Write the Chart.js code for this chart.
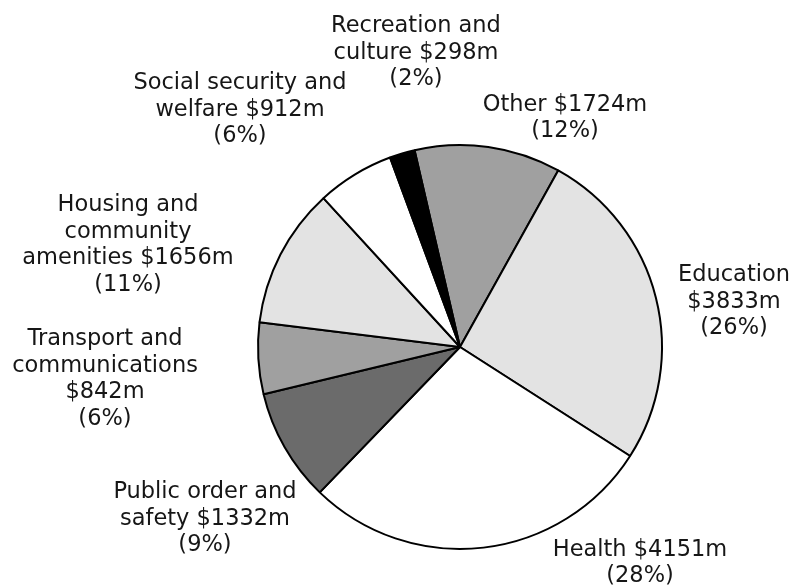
<!DOCTYPE html>
<html>
<head>
<meta charset="utf-8">
<script src="https://cdn.jsdelivr.net/npm/chart.js@4/dist/chart.umd.min.js"></script>
<style>
    html, body { margin: 0; padding: 0; background: #ffffff; }
    .chart-wrap { width: 793px; height: 585px; position: relative; }
</style>
</head>
<body>
<div class="chart-wrap">
    <canvas id="myChart" width="793" height="585"></canvas>
</div>
<script>
// spending by category, $m (clockwise from the top)
let categories = [
    "Other",
    "Education",
    "Health",
    "Public order and safety",
    "Transport and communications",
    "Housing and community amenities",
    "Social security and welfare",
    "Recreation and culture",
];
let spending = [1724, 3833, 4151, 1332, 842, 1656, 912, 298];

let sliceColors = ["#a0a0a0", "#e3e3e3", "#ffffff", "#6b6b6b", "#a0a0a0", "#e3e3e3", "#ffffff", "#000000"];

// where each label block sits, relative to the pie centre, and how wide a line may get
let labelPlacement = [
    { dx: 105, dy: -229, wrap: 220 },
    { dx: 274, dy: -45, wrap: 150 },
    { dx: 180, dy: 216, wrap: 220 },
    { dx: -255, dy: 172, wrap: 220 },
    { dx: -355, dy: 32, wrap: 220 },
    { dx: -332, dy: -102, wrap: 220 },
    { dx: -220, dy: -237, wrap: 220 },
    { dx: -44, dy: -294, wrap: 220 },
];

let total = spending.reduce((a, b) => a + b, 0);

function wrapText(ctx, text, maxWidth) {
    let words = text.split(" ");
    let lines = [];
    let line = "";
    words.forEach((word) => {
        let test = line ? line + " " + word : word;
        if (line && ctx.measureText(test).width > maxWidth) {
            lines.push(line);
            line = word;
        } else {
            line = test;
        }
    });
    if (line) lines.push(line);
    return lines;
}

let sliceLabels = {
    id: "sliceLabels",
    afterDraw(chart) {
        let ctx = chart.ctx;
        let arcs = chart.getDatasetMeta(0).data;
        ctx.save();
        ctx.font = "22.5px 'DejaVu Sans', Verdana, sans-serif";
        ctx.fillStyle = "#161616";
        ctx.textAlign = "center";
        ctx.textBaseline = "middle";
        let lineHeight = 26.5;
        arcs.forEach((arc, i) => {
            let value = spending[i];
            let pct = Math.round(value / total * 100);
            let lines = wrapText(ctx, categories[i] + " $" + value + "m", labelPlacement[i].wrap);
            lines.push("(" + pct + "%)");
            let cx = arc.x + labelPlacement[i].dx;
            let cy = arc.y + labelPlacement[i].dy;
            let top = cy - (lines.length - 1) * lineHeight / 2;
            lines.forEach((text, j) => {
                ctx.fillText(text, cx, top + j * lineHeight);
            });
        });
        ctx.restore();
    }
};

let ctx = document.getElementById("myChart").getContext("2d");
let myChart = new Chart(ctx, {
    type: "pie",
    data: {
        labels: categories,
        datasets: [{
            data: spending,
            backgroundColor: sliceColors,
            borderColor: "#000000",
            borderWidth: 2,
            hoverOffset: 0,
        }]
    },
    options: {
        responsive: false,
        animation: false,
        rotation: -13,
        layout: {
            padding: { left: 257, right: 130, top: 144, bottom: 35 }
        },
        plugins: {
            legend: { display: false },
            tooltip: { enabled: false }
        }
    },
    plugins: [sliceLabels]
});
</script>
</body>
</html>
